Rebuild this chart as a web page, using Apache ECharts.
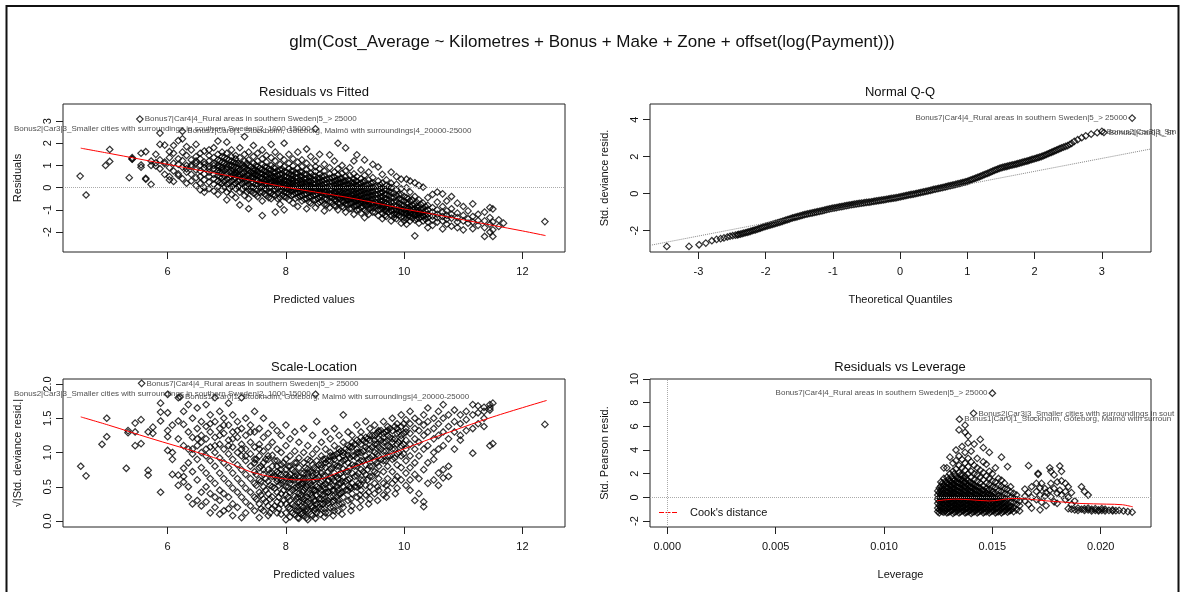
<!DOCTYPE html>
<html>
<head>
<meta charset="utf-8">
<script src="https://cdn.jsdelivr.net/npm/echarts@6/dist/echarts.min.js"></script>
<style>html,body{margin:0;padding:0;background:#fff}#c{width:1184px;height:592px}</style>
</head>
<body>
<div id="c"></div>
<script>
// ---------------- DATA ----------------
const mainTitle = "glm(Cost_Average ~ Kilometres + Bonus + Make + Zone + offset(log(Payment)))";
const panelTitles = ["Residuals vs Fitted", "Normal Q-Q", "Scale-Location", "Residuals vs Leverage"];
const xNames = ["Predicted values", "Theoretical Quantiles", "Predicted values", "Leverage"];
const yNames = ["Residuals", "Std. deviance resid.", "\u221A|Std. deviance resid.|", "Std. Pearson resid."];
const idLabels = [
  "Bonus7|Car4|4_Rural areas in southern Sweden|5_> 25000",
  "Bonus2|Car3|3_Smaller cities with surroundings in southern Sweden|2_1000-15000",
  "Bonus1|Car0|1_Stockholm, G\u00f6teborg, Malm\u00f6 with surroundings|4_20000-25000"
];
const cookLabel = "Cook's distance";

// tick values
const fitTicks = [6, 8, 10, 12];
const residTicks = [-2, -1, 0, 1, 2, 3];
const qqXTicks = [-3, -2, -1, 0, 1, 2, 3];
const qqYTicks = [-2, 0, 2, 4];
const slYTicks = [0, 0.5, 1, 1.5, 2];
const levXTicks = [0, 0.005, 0.01, 0.015, 0.02];
const levYTicks = [-2, 0, 2, 4, 6, 8, 10];

// Residuals vs Fitted: each row = [fitted, residual, residual, ...]
const rvfCols = [
[4.52,0.52],[4.62,-0.33],[4.95,1.0],[5.02,1.72,1.18],[5.35,0.45],[5.4,1.35,1.28,1.3],
[5.55,1.55,0.92,1.02],[5.63,1.62,0.42,0.38],[5.72,1.2,0.15,1.0],[5.8,1.5,1.12,0.98],
[5.87,2.46,1.95,1.25,0.85],[5.95,1.92,1.08,0.6,1.15],[6.03,1.35,0.5,0.35,0.9,1.62],
[6.1,1.55,1.1,0.28,0.75,1.9],[6.18,1.3,1.05,0.55,0.62,2.12],[6.25,1.6,1.22,0.92,0.4,2.2],
[6.32,1.45,1.0,0.7,0.2,1.85,0.85],[6.4,1.7,1.25,1.02,0.6,0.3,0.95],[6.48,1.95,1.4,1.1,0.8,0.45,0.1,1.2],
[6.55,1.3,1.0,0.75,0.5,0.2,-0.1,1.55],[6.62,1.65,1.15,0.9,0.62,0.35,0.0,-0.2,1.05],
[6.7,1.45,1.2,0.95,0.7,0.5,0.25,-0.05,0.85,1.7],[6.78,1.8,1.35,1.1,0.85,0.6,0.4,0.15,-0.15,1.0],
[6.85,2.1,1.5,1.25,1.0,0.75,0.55,0.3,0.05,-0.3,0.9],[6.92,1.4,1.15,0.9,0.68,0.45,0.2,-0.1,1.6,0.8],
[7.0,2.05,1.55,1.3,1.05,0.85,0.6,0.4,0.15,-0.2,-0.55,0.95],[7.08,1.7,1.2,1.0,0.75,0.5,0.3,0.05,-0.3,0.65,1.4],
[7.15,1.45,1.1,0.9,0.7,0.45,0.2,-0.05,-0.45,1.3,0.6],[7.22,1.8,1.35,1.05,0.8,0.6,0.35,0.1,-0.2,-0.78,0.5],
[7.3,2.3,1.5,1.2,0.95,0.7,0.5,0.28,0.05,-0.35,0.85,0.4],[7.37,1.6,1.25,1.0,0.78,0.55,0.35,0.15,-0.1,-0.5,-0.95,0.65],
[7.45,1.9,1.4,1.1,0.85,0.62,0.42,0.22,0.0,-0.25,0.75,0.5],[7.52,1.55,1.2,0.95,0.75,0.55,0.35,0.12,-0.1,-0.4,0.68,0.3],
[7.6,1.7,1.3,1.05,0.82,0.62,0.45,0.25,0.05,-0.2,-0.6,-1.26,0.4],[7.67,1.45,1.15,0.92,0.72,0.5,0.32,0.12,-0.08,-0.35,0.6,0.2],
[7.75,1.95,1.35,1.0,0.8,0.6,0.42,0.22,0.02,-0.22,-0.5,0.5,0.3],[7.82,1.6,1.2,0.88,0.68,0.5,0.3,0.1,-0.1,-0.35,-1.1,0.4,0.2],
[7.9,1.4,1.05,0.8,0.6,0.42,0.25,0.05,-0.15,-0.45,-0.75,0.35,0.15],[7.97,2.0,1.25,0.95,0.72,0.52,0.35,0.18,0.0,-0.2,-0.4,-1.0,0.28,0.1],
[8.05,1.5,1.1,0.85,0.62,0.45,0.28,0.1,-0.08,-0.28,-0.55,0.2,0.02],[8.12,1.3,0.98,0.75,0.55,0.38,0.2,0.05,-0.12,-0.32,-0.7,0.3,-0.05],
[8.2,1.6,1.15,0.88,0.65,0.45,0.28,0.12,-0.05,-0.22,-0.42,-0.85,0.0],[8.27,1.25,0.95,0.7,0.5,0.32,0.15,0.0,-0.15,-0.35,-0.6,0.22,-0.08],
[8.35,1.74,1.1,0.82,0.6,0.42,0.25,0.08,-0.1,-0.28,-0.5,-0.95,0.15],[8.42,1.4,0.9,0.65,0.45,0.28,0.12,-0.03,-0.2,-0.4,-0.7,0.05,-0.12],
[8.5,1.2,0.95,0.72,0.52,0.35,0.18,0.02,-0.15,-0.32,-0.55,-0.9,-0.05],[8.57,1.5,0.85,0.6,0.42,0.25,0.1,-0.05,-0.22,-0.42,-0.65,0.0,-0.15],
[8.65,1.05,0.75,0.52,0.35,0.18,0.02,-0.12,-0.28,-0.48,-0.75,-1.05,-0.2],[8.74,1.48,0.9,0.62,0.42,0.25,0.08,-0.08,-0.25,-0.42,-0.62,-0.9,-0.3],
[8.82,1.2,0.7,0.48,0.3,0.12,-0.02,-0.18,-0.35,-0.55,-0.8,-0.25],[8.88,2.0,0.85,0.58,0.38,0.2,0.04,-0.12,-0.3,-0.48,-0.7,-1.0,-0.4],
[8.95,1.0,0.65,0.42,0.25,0.08,-0.08,-0.25,-0.42,-0.6,-0.85,-0.35],[9.01,1.79,0.75,0.5,0.3,0.12,-0.05,-0.2,-0.38,-0.55,-0.75,-1.1,-0.45],
[9.08,0.9,0.55,0.32,0.15,-0.02,-0.18,-0.35,-0.52,-0.7,-0.95,-0.42],[9.15,1.2,0.62,0.38,0.2,0.02,-0.15,-0.3,-0.48,-0.65,-0.85,-1.2,-0.55],
[9.2,1.48,0.5,0.28,0.1,-0.08,-0.25,-0.42,-0.6,-0.8,-1.0,-0.5],[9.27,0.8,0.4,0.2,0.02,-0.15,-0.32,-0.5,-0.68,-0.88,-1.15,-0.6],
[9.33,1.25,0.55,0.3,0.1,-0.08,-0.25,-0.42,-0.6,-0.78,-1.0,-1.35,-0.7],[9.4,0.7,0.35,0.15,-0.05,-0.22,-0.4,-0.58,-0.75,-0.95,-1.2,-0.65],
[9.47,1.05,0.45,0.22,0.02,-0.18,-0.35,-0.52,-0.7,-0.9,-1.1,-0.8],[9.56,0.93,0.3,0.08,-0.12,-0.3,-0.48,-0.65,-0.82,-1.0,-1.25,-0.75],
[9.63,0.6,0.2,0.0,-0.2,-0.4,-0.6,-0.78,-0.95,-1.15,-1.4,-0.85],[9.7,0.35,0.1,-0.1,-0.3,-0.5,-0.7,-0.88,-1.05,-1.3,-0.95],
[9.78,0.7,0.2,0.0,-0.22,-0.45,-0.65,-0.85,-1.05,-1.25,-1.5,-1.0],[9.87,0.5,0.15,-0.1,-0.35,-0.6,-0.82,-1.0,-1.2,-1.4,-1.1],
[9.95,0.38,-0.05,-0.3,-0.55,-0.78,-0.95,-1.12,-1.32,-1.6,-1.05],[10.04,0.38,0.0,-0.45,-0.7,-0.9,-1.05,-1.2,-1.4,-1.65,-1.15],
[10.1,0.3,-0.2,-0.6,-0.85,-1.0,-1.15,-1.3,-1.5,-1.1],[10.18,0.22,-0.4,-0.75,-0.95,-1.1,-1.25,-1.45,-2.17,-1.2],
[10.25,0.1,-0.55,-0.88,-1.05,-1.22,-1.38,-1.6,-1.15],[10.32,0.02,-0.7,-0.95,-1.12,-1.3,-1.5,-1.25],
[10.4,-0.45,-0.8,-1.0,-1.2,-1.35,-1.55,-1.8],[10.48,-0.3,-0.9,-1.1,-1.28,-1.45,-1.7],
[10.56,-0.2,-0.65,-1.0,-1.2,-1.35,-1.55],[10.65,-0.28,-0.85,-1.1,-1.3,-1.5,-1.86],
[10.72,-0.6,-1.05,-1.25,-1.42,-1.65],[10.8,-0.4,-0.95,-1.2,-1.38,-1.74],[10.9,-0.7,-1.15,-1.35,-1.55,-1.8],
[11.0,-0.85,-1.25,-1.5,-1.9],[11.08,-1.05,-1.4,-1.6],[11.16,-0.73,-1.3,-1.55,-1.85],[11.25,-1.2,-1.48,-1.7],
[11.36,-1.1,-1.5,-1.8,-2.2],[11.45,-0.9,-1.35,-1.65,-2.0],[11.5,-0.96,-1.9,-2.2,-1.55],[11.6,-1.45,-1.75],
[11.68,-1.6],[12.38,-1.53]
];
// dense core of the Residuals vs Fitted cloud
const rvfCore = [
[6.88,0.95,0.7,0.48,0.22,1.2],[6.96,1.1,0.78,0.52,0.28,0.02,1.35],[7.04,1.0,0.7,0.45,0.2,-0.05,1.25],
[7.12,0.95,0.62,0.38,0.12,1.15,0.8],[7.19,0.88,0.58,0.3,0.05,1.1,0.72],[7.26,0.9,0.62,0.4,0.18,-0.08,1.05],
[7.34,0.82,0.55,0.3,0.05,-0.2,1.1],[7.41,0.72,0.48,0.25,0.02,-0.15,0.95],[7.49,0.8,0.58,0.38,0.15,-0.05,-0.3,1.0],
[7.56,0.65,0.45,0.22,0.0,-0.22,0.88],[7.64,0.75,0.55,0.35,0.15,-0.05,-0.28,0.95],[7.71,0.62,0.4,0.2,0.0,-0.2,-0.45,0.85],
[7.79,0.7,0.5,0.3,0.1,-0.1,-0.3,0.9],[7.86,0.55,0.35,0.15,-0.05,-0.25,-0.5,0.75],[7.94,0.62,0.42,0.22,0.05,-0.12,-0.32,0.82],
[8.01,0.5,0.3,0.12,-0.05,-0.22,-0.45,0.7],[8.09,0.58,0.38,0.2,0.02,-0.15,-0.35,0.75],[8.16,0.45,0.28,0.1,-0.08,-0.25,-0.48,0.65],
[8.24,0.52,0.35,0.18,0.0,-0.18,-0.38,0.72],[8.31,0.4,0.22,0.05,-0.12,-0.3,-0.52,0.6],[8.39,0.48,0.3,0.12,-0.05,-0.22,-0.42,-0.65],
[8.46,0.35,0.18,0.0,-0.18,-0.35,-0.55,0.55],[8.54,0.42,0.25,0.08,-0.1,-0.28,-0.48,-0.72],[8.61,0.3,0.12,-0.05,-0.22,-0.4,-0.6,0.5],
[8.69,0.38,0.2,0.02,-0.15,-0.32,-0.52,-0.78],[8.78,0.25,0.08,-0.1,-0.28,-0.45,-0.65,0.45],[8.85,0.32,0.15,-0.02,-0.2,-0.38,-0.58,-0.85],
[8.92,0.2,0.02,-0.15,-0.32,-0.5,-0.7,0.4],[8.98,0.28,0.1,-0.08,-0.25,-0.42,-0.62,-0.9],[9.05,0.15,-0.02,-0.2,-0.38,-0.55,-0.75,0.35],
[9.11,0.22,0.05,-0.12,-0.3,-0.48,-0.68,-0.95],[9.18,0.1,-0.08,-0.25,-0.42,-0.6,-0.8,0.3],[9.24,0.15,-0.02,-0.2,-0.38,-0.55,-0.75,-1.0],
[9.3,0.05,-0.12,-0.3,-0.48,-0.65,-0.85,0.25],[9.37,0.1,-0.08,-0.25,-0.42,-0.6,-0.8,-1.08],[9.44,0.0,-0.18,-0.35,-0.52,-0.7,-0.9,0.2],
[9.51,0.05,-0.12,-0.3,-0.48,-0.65,-0.85,-1.12],[9.6,-0.05,-0.25,-0.42,-0.6,-0.78,-0.98,0.12],[9.67,-0.1,-0.3,-0.48,-0.65,-0.82,-1.02,-1.25],
[9.74,-0.15,-0.35,-0.55,-0.72,-0.9,-1.1,0.05],[9.83,-0.25,-0.45,-0.65,-0.82,-1.0,-1.2,-1.35],[9.91,-0.3,-0.5,-0.7,-0.88,-1.05,-1.25],
[10.0,-0.4,-0.6,-0.8,-1.0,-1.15,-1.35,-1.5],[10.07,-0.5,-0.72,-0.92,-1.1,-1.28],[10.14,-0.55,-0.8,-0.98,-1.18,-1.38],
[10.21,-0.65,-0.85,-1.02,-1.2,-1.4],[10.28,-0.75,-0.98,-1.15,-1.32],[10.36,-0.85,-1.05,-1.25,-1.42]
];
const rvfId = [[5.53, 3.09], [8.5, 2.65], [6.25, 2.54]];
const rvfSmooth = [[4.53,1.78],[5.0,1.55],[5.5,1.3],[6.0,1.05],[6.5,0.8],[7.0,0.55],[7.5,0.28],[8.0,0.02],[8.5,-0.2],[9.0,-0.42],[9.5,-0.68],[10.0,-0.96],[10.5,-1.2],[11.0,-1.45],[11.5,-1.7],[12.0,-1.95],[12.39,-2.16]];

// Normal Q-Q: [theoretical quantile, std deviance residual]
const qqPts = [
[-3.47,-2.85],[-3.14,-2.85],[-2.99,-2.76],[-2.89,-2.67],[-2.80,-2.54],[-2.73,-2.47],[-2.67,-2.43],[-2.62,-2.39],[-2.57,-2.34],[-2.53,-2.30],[-2.49,-2.27],[-2.45,-2.24],[-2.42,-2.22],
[-2.40,-2.20],[-2.35,-2.16],[-2.30,-2.11],[-2.25,-2.06],[-2.20,-2.00],[-2.15,-1.95],[-2.10,-1.89],[-2.05,-1.82],[-2.00,-1.76],[-1.95,-1.71],[-1.90,-1.66],[-1.85,-1.60],[-1.80,-1.55],[-1.75,-1.49],[-1.70,-1.43],[-1.65,-1.37],[-1.60,-1.31],[-1.55,-1.26],[-1.50,-1.21],[-1.45,-1.16],[-1.40,-1.11],[-1.35,-1.07],[-1.30,-1.03],[-1.25,-0.99],[-1.20,-0.95],[-1.15,-0.91],[-1.10,-0.86],[-1.05,-0.82],[-1.00,-0.78],[-0.95,-0.75],[-0.90,-0.71],[-0.85,-0.68],[-0.80,-0.64],[-0.75,-0.61],[-0.70,-0.58],[-0.65,-0.55],[-0.60,-0.52],[-0.55,-0.50],[-0.50,-0.47],[-0.45,-0.45],[-0.40,-0.42],[-0.35,-0.39],[-0.30,-0.36],[-0.25,-0.33],[-0.20,-0.30],[-0.15,-0.27],[-0.10,-0.24],[-0.05,-0.21],[0.00,-0.17],[0.05,-0.13],[0.10,-0.09],[0.15,-0.05],[0.20,-0.02],[0.25,0.02],[0.30,0.06],[0.35,0.10],[0.40,0.14],[0.45,0.18],[0.50,0.23],[0.55,0.27],[0.60,0.31],[0.65,0.35],[0.70,0.40],[0.75,0.44],[0.80,0.48],[0.85,0.53],[0.90,0.57],[0.95,0.62],[1.00,0.67],[1.05,0.74],[1.10,0.81],[1.15,0.88],[1.20,0.95],[1.25,1.03],[1.30,1.10],[1.35,1.18],[1.40,1.26],[1.45,1.33],[1.50,1.40],[1.55,1.45],[1.60,1.49],[1.65,1.54],[1.70,1.58],[1.75,1.63],[1.80,1.68],[1.85,1.73],[1.90,1.78],[1.95,1.84],[2.00,1.89],[2.05,1.95],[2.10,2.01],[2.15,2.08],[2.20,2.16],[2.25,2.24],[2.30,2.32],[2.35,2.40],[2.40,2.48],
[2.43,2.52],[2.46,2.56],[2.49,2.60],[2.52,2.66],[2.55,2.72],[2.59,2.83],[2.64,2.92],[2.70,3.03],[2.76,3.13],[2.84,3.22],[2.93,3.30]
];
// further points of the dense middle of the Q-Q band
const qqMid = [
[-2.375,-2.18],[-2.325,-2.135],[-2.275,-2.085],[-2.225,-2.03],[-2.175,-1.975],[-2.125,-1.92],[-2.075,-1.855],[-2.025,-1.79],[-1.975,-1.735],[-1.925,-1.685],[-1.875,-1.63],[-1.825,-1.575],[-1.775,-1.52],[-1.725,-1.46],[-1.675,-1.40],[-1.625,-1.34],[-1.575,-1.285],[-1.525,-1.235],[-1.475,-1.185],[-1.425,-1.135],[-1.375,-1.09],[-1.325,-1.05],[-1.275,-1.01],[-1.225,-0.97],[-1.175,-0.93],[-1.125,-0.885],[-1.075,-0.84],[-1.025,-0.80],[-0.975,-0.765],[-0.925,-0.73],[-0.875,-0.695],[-0.825,-0.66],[-0.775,-0.625],[-0.725,-0.595],[-0.675,-0.565],[-0.625,-0.535],[-0.575,-0.51],[-0.525,-0.485],[-0.475,-0.46],[-0.425,-0.435],[-0.375,-0.405],[-0.325,-0.375],[-0.275,-0.345],[-0.225,-0.315],[-0.175,-0.285],[-0.125,-0.255],[-0.075,-0.225],[-0.025,-0.19],[0.025,-0.15],[0.075,-0.11],[0.125,-0.07],[0.175,-0.035],[0.225,0.0],[0.275,0.04],[0.325,0.08],[0.375,0.12],[0.425,0.16],[0.475,0.205],[0.525,0.25],[0.575,0.29],[0.625,0.33],[0.675,0.375],[0.725,0.42],[0.775,0.46],[0.825,0.505],[0.875,0.55],[0.925,0.595],[0.975,0.645],[1.025,0.705],[1.075,0.775],[1.125,0.845],[1.175,0.915],[1.225,0.99],[1.275,1.065],[1.325,1.14],[1.375,1.22],[1.425,1.295],[1.475,1.365],[1.525,1.425],[1.575,1.47],[1.625,1.515],[1.675,1.56],[1.725,1.605],[1.775,1.655],[1.825,1.705],[1.875,1.755],[1.925,1.81],[1.975,1.865],[2.025,1.92],[2.075,1.98],[2.125,2.045],[2.175,2.12],[2.225,2.2],[2.275,2.28],[2.325,2.36],[2.375,2.44]
];
const qqId = [[3.45, 4.09], [3.0, 3.37], [3.03, 3.31]];
const qqRef = [[-3.72, -2.79], [3.73, 2.42]];

// Scale-Location: each row = [fitted, sqrt|std resid|, ...]
const slCols = [
[4.53,0.8],[4.62,0.66],[4.89,1.12],[4.97,1.23,1.5],[5.3,0.77],[5.33,1.32,1.29],[5.45,1.43,1.3,1.1],
[5.55,1.13,1.48],[5.67,0.74,0.67,1.3],[5.75,1.37,1.28],[5.88,0.42,1.59,1.46,1.72],[6.0,1.58,1.23,1.03,1.32,1.85],
[6.08,1.0,0.68,1.4,0.9],[6.18,0.67,0.52,1.2,1.46,1.8],[6.27,1.41,0.57,0.77,0.65,1.1,1.6],
[6.35,1.3,1.05,0.85,0.5,0.35,1.7],[6.42,1.5,1.22,0.98,0.72,0.25,1.05],[6.5,1.65,1.35,1.1,0.9,0.6,0.3,1.2],
[6.57,1.45,1.15,1.0,0.78,0.42,0.22,1.25],[6.65,1.7,1.38,1.2,0.95,0.7,0.5,0.28,1.05],
[6.72,1.55,1.3,1.08,0.88,0.62,0.4,0.12,1.42],[6.8,1.8,1.45,1.22,1.0,0.8,0.55,0.35,0.2,1.1],
[6.88,1.6,1.35,1.12,0.92,0.7,0.45,0.3,0.1,1.25],[6.95,1.5,1.28,1.05,0.85,0.62,0.4,0.15,1.4],
[7.03,1.72,1.4,1.18,0.98,0.78,0.55,0.35,0.18,1.1],[7.1,1.55,1.3,1.08,0.9,0.7,0.48,0.25,0.08,1.2],
[7.18,1.45,1.22,1.0,0.82,0.62,0.42,0.2,1.32],[7.25,1.8,1.35,1.12,0.95,0.75,0.55,0.35,0.05,1.05],
[7.32,1.5,1.25,1.05,0.88,0.68,0.48,0.28,0.12,0.95],[7.4,1.4,1.15,0.98,0.8,0.62,0.42,0.22,1.3],
[7.47,1.6,1.3,1.08,0.9,0.72,0.55,0.35,0.15,0.85],[7.55,1.35,1.12,0.95,0.78,0.6,0.42,0.25,0.05,1.05],
[7.62,1.5,1.22,1.02,0.85,0.68,0.5,0.32,0.15,0.75],[7.7,1.28,1.08,0.9,0.75,0.58,0.4,0.22,0.08,0.95],
[7.77,1.4,1.15,0.96,0.8,0.65,0.5,0.35,0.18,0.7],[7.85,1.32,1.05,0.88,0.72,0.58,0.42,0.28,0.12,0.62,0.8],
[7.92,1.25,1.0,0.82,0.68,0.55,0.4,0.25,0.1,0.6,0.75],[8.0,1.4,1.1,0.9,0.75,0.62,0.5,0.38,0.25,0.12,0.02,0.68],
[8.07,1.2,0.95,0.8,0.68,0.55,0.42,0.3,0.18,0.06,0.6],[8.15,1.3,1.02,0.85,0.72,0.6,0.48,0.36,0.22,0.1,0.65],
[8.22,1.15,0.92,0.78,0.65,0.52,0.4,0.28,0.15,0.04,0.58],[8.3,1.35,1.0,0.85,0.7,0.58,0.45,0.32,0.2,0.08,0.62],
[8.37,1.1,0.9,0.76,0.64,0.52,0.4,0.28,0.15,0.02,0.7],[8.45,1.25,0.98,0.82,0.7,0.58,0.46,0.34,0.2,0.08,0.65],
[8.52,1.45,1.05,0.88,0.75,0.62,0.5,0.38,0.25,0.12,0.7],[8.6,1.15,0.95,0.82,0.7,0.58,0.45,0.32,0.18,0.78],
[8.67,1.3,1.05,0.9,0.78,0.66,0.54,0.42,0.28,0.12,0.85],[8.75,1.2,1.0,0.88,0.76,0.64,0.5,0.36,0.2,0.95],
[8.82,1.35,1.1,0.95,0.82,0.7,0.58,0.45,0.3,0.15,0.9],[8.9,1.25,1.05,0.92,0.8,0.68,0.55,0.4,0.25,1.0],
[8.97,1.55,1.15,1.0,0.88,0.76,0.64,0.5,0.35,0.2,0.95],[9.05,1.3,1.1,0.96,0.85,0.72,0.6,0.45,0.3,1.02],
[9.12,1.25,1.08,0.95,0.82,0.7,0.55,0.4,0.22,1.15],[9.2,1.4,1.18,1.05,0.92,0.8,0.66,0.5,0.35,1.0],
[9.27,1.3,1.12,1.0,0.88,0.75,0.6,0.45,0.3,1.22],[9.35,1.45,1.22,1.08,0.95,0.82,0.68,0.52,0.38,1.15],
[9.42,1.35,1.18,1.05,0.92,0.8,0.65,0.5,0.32,1.25],[9.5,1.4,1.25,1.12,1.0,0.88,0.72,0.55,0.4,1.18],
[9.57,1.32,1.2,1.08,0.95,0.8,0.62,0.45,1.3],[9.65,1.45,1.28,1.15,1.02,0.88,0.72,0.55,0.38,1.22],
[9.72,1.38,1.25,1.1,0.95,0.8,0.62,0.45,1.32],[9.8,1.5,1.32,1.2,1.05,0.9,0.72,0.55,1.15],
[9.88,1.42,1.28,1.12,0.98,0.82,0.65,0.48,1.35],[9.95,1.55,1.38,1.25,1.1,0.95,0.78,0.6,1.2],
[10.03,1.48,1.3,1.18,1.05,0.88,0.7,0.52,1.35],[10.1,1.6,1.42,1.28,1.12,0.95,0.78,0.6,0.45],
[10.18,1.5,1.35,1.2,1.05,0.85,0.68,0.3],[10.25,1.45,1.32,1.15,0.95,0.62,0.4],
[10.33,1.55,1.4,1.25,1.05,0.75,0.28,0.21],[10.4,1.65,1.45,1.3,1.1,0.85,0.55],
[10.5,1.5,1.35,1.2,0.9,0.6,1.0],[10.58,1.6,1.42,1.25,1.05,0.7,0.52],[10.66,1.7,1.5,1.3,0.75,1.1,0.63],
[10.75,1.55,1.38,1.2,0.8,0.65],[10.85,1.62,1.45,1.3,1.05],[10.95,1.55,1.42,1.25,1.18],
[11.05,1.6,1.48,1.32],[11.16,1.7,1.55,1.35,0.99],[11.25,1.68,1.58,1.42],[11.35,1.6,1.5,1.38,1.66],
[11.45,1.7,1.62,1.1,1.65],[11.5,1.72,1.13],[12.38,1.41]
];
// dense core of the Scale-Location cloud
const slCore = [
[7.5,0.52,0.32,0.9,0.68],[7.58,0.58,0.38,0.18,0.8],[7.66,0.45,0.62,0.28,0.9],[7.73,0.52,0.32,0.7,0.12],
[7.81,0.48,0.65,0.22,0.88],[7.88,0.35,0.52,0.7,0.18],[7.96,0.45,0.3,0.58,0.85],[8.04,0.35,0.5,0.65,0.2,0.8],
[8.11,0.25,0.45,0.6,0.75,0.12],[8.18,0.32,0.5,0.68,0.15,0.85],[8.26,0.22,0.38,0.55,0.7,0.1],[8.33,0.3,0.48,0.62,0.78,0.15],
[8.41,0.25,0.4,0.55,0.72,0.88],[8.48,0.3,0.45,0.6,0.78,0.15],[8.56,0.32,0.48,0.65,0.82,0.2],[8.63,0.38,0.52,0.66,0.9,0.25],
[8.71,0.42,0.58,0.72,0.88,0.3],[8.79,0.45,0.62,0.78,0.95,0.28],[8.86,0.5,0.65,0.8,0.98,0.35],[8.93,0.55,0.7,0.85,1.02,0.4],
[9.01,0.58,0.72,0.9,1.05,0.45],[9.08,0.62,0.78,0.92,1.08,0.5],[9.16,0.65,0.8,0.95,1.12,0.5],[9.23,0.7,0.85,1.0,1.15,0.55],
[9.31,0.72,0.88,1.02,1.18,0.6],[9.38,0.75,0.9,1.05,1.2,0.6],[9.46,0.8,0.95,1.08,1.25,0.65],[9.54,0.85,0.98,1.12,1.28,0.7],
[9.61,0.9,1.05,1.18,1.32],[9.69,0.88,1.02,1.15,1.3],[9.76,0.95,1.08,1.22,1.35],[9.84,0.92,1.05,1.2,1.38],
[9.91,1.0,1.15,1.3],[9.99,0.98,1.12,1.28,1.42]
];
// low values near the bottom of the Scale-Location "V"
const slLow = [
[8.2,0.05,0.2,0.35,0.48],[8.28,0.12,0.28,0.42,0.55],[8.35,0.05,0.18,0.35,0.5],[8.43,0.1,0.22,0.38,0.52],
[8.5,0.04,0.18,0.3,0.45],[8.58,0.1,0.25,0.4,0.55],[8.65,0.06,0.18,0.32,0.48],[8.72,0.12,0.26,0.42,0.6],
[8.8,0.08,0.2,0.36,0.52],[8.88,0.15,0.3,0.45,0.62],[8.95,0.1,0.25,0.42,0.58],[9.1,0.15,0.32,0.48],
[9.25,0.2,0.38,0.52],[9.4,0.25,0.42],[9.55,0.3,0.5],[9.7,0.35,0.52],[9.85,0.4,0.6]
];
const slId = [[5.56, 2.01], [8.5, 1.85], [6.21, 1.81]];
const slSmooth = [[4.53,1.52],[5.0,1.4],[5.7,1.21],[6.55,0.99],[7.0,0.86],[7.4,0.72],[7.8,0.64],[8.24,0.6],[8.57,0.61],[8.8,0.68],[9.08,0.77],[9.5,0.9],[9.93,1.03],[10.35,1.17],[10.77,1.3],[11.5,1.52],[12.41,1.76]];

// Residuals vs Leverage: each row = [leverage, std pearson resid, ...]
const levCols = [
[0.01248,-0.9,-0.5,-0.15,0.2,0.55,-1.2],
[0.01262,-1.1,-0.8,-0.45,-0.1,0.25,0.6,0.95,1.3],
[0.01276,-1.25,-0.95,-0.6,-0.3,0.0,0.35,0.7,1.05,1.6,2.5],
[0.0129,-1.3,-1.0,-0.7,-0.4,-0.1,0.2,0.5,0.85,1.2,1.7,2.5],
[0.01304,-1.2,-0.85,-0.55,-0.25,0.05,0.35,0.65,1.0,1.4,2.0,3.4],
[0.01318,-1.35,-1.05,-0.75,-0.45,-0.15,0.15,0.45,0.8,1.15,1.55,2.2,2.9],
[0.01332,-1.2,-0.9,-0.6,-0.3,0.0,0.3,0.6,0.95,1.3,1.75,2.4,3.1,4.0],
[0.01346,-1.3,-1.0,-0.7,-0.4,-0.1,0.2,0.5,0.85,1.2,1.6,2.1,2.7,3.5,5.7],
[0.0136,-1.15,-0.85,-0.55,-0.25,0.05,0.35,0.7,1.05,1.45,1.9,2.5,3.2,4.3],
[0.01374,-1.3,-1.0,-0.7,-0.4,-0.1,0.2,0.55,0.9,1.3,1.8,2.3,2.9,3.8,5.5,6.1],
[0.01388,-1.2,-0.9,-0.6,-0.3,0.0,0.3,0.65,1.0,1.4,2.0,2.6,3.3,4.6,5.2],
[0.01402,-1.35,-1.05,-0.75,-0.45,-0.15,0.15,0.5,0.85,1.25,1.7,2.2,3.0,3.9],
[0.01416,-1.2,-0.9,-0.6,-0.3,0.0,0.3,0.65,1.05,1.5,2.0,2.7,4.5],
[0.0143,-1.3,-1.0,-0.7,-0.4,-0.1,0.2,0.55,0.9,1.35,1.9,2.5,3.3],
[0.01444,-1.15,-0.85,-0.55,-0.25,0.05,0.4,0.8,1.2,1.7,2.3,4.9],
[0.01458,-1.3,-1.0,-0.7,-0.4,-0.1,0.25,0.6,1.0,1.5,2.1,3.0,4.2],
[0.01472,-1.2,-0.9,-0.6,-0.3,0.0,0.35,0.75,1.2,1.8,2.8],
[0.01486,-1.3,-0.95,-0.65,-0.35,-0.05,0.3,0.7,1.1,1.6,2.2,3.8],
[0.015,-1.15,-0.85,-0.55,-0.25,0.1,0.5,0.9,1.4,2.0],
[0.01514,-1.3,-0.95,-0.6,-0.3,0.05,0.4,0.85,1.3,2.5],
[0.01528,-1.2,-0.85,-0.5,-0.2,0.15,0.55,1.0,1.6],
[0.01542,-1.3,-0.95,-0.6,-0.25,0.1,0.5,0.95,1.45,3.4],
[0.01556,-1.15,-0.8,-0.45,-0.1,0.3,0.75,1.2],
[0.0157,-1.25,-0.9,-0.55,-0.15,0.25,0.7,2.6],
[0.01584,-1.1,-0.75,-0.4,0.0,0.45,0.9],
[0.01598,-1.2,-0.85,-0.45,-0.05,0.35],
[0.01612,-1.05,-0.6,-0.2,0.2],
[0.01626,-1.15,-0.7,-0.3],
[0.0165,0.7,-0.3,0.1],[0.01667,2.68,0.4,-0.6],[0.01681,0.9,0.0,-0.9],[0.01703,1.18,0.5,-0.2],
[0.01711,2.03,1.95],[0.0172,0.2,-1.05,0.8],[0.01727,1.18,-0.4],[0.01742,0.75,0.1],[0.01748,0.42,-0.7],
[0.01765,2.5,0.6],[0.0177,2.2,1.18,0.05],[0.01785,1.9,0.75,-0.37],[0.01799,1.3,0.35,-0.5],
[0.01811,2.65,0.6],[0.01819,2.2,1.4,0.2],[0.01837,1.18,0.5,-0.2],[0.0185,0.9,0.0,-0.95],
[0.01865,0.4,-0.6,-1.0],[0.0188,-0.3,-1.05],[0.01895,-0.9,-1.1],[0.01911,0.9,-1.0],
[0.01925,0.5,-1.1,-0.95],[0.01942,0.2,-0.9,-1.05],[0.01958,-1.0,-1.15],[0.01975,-0.95,-1.1],
[0.0199,-1.05,-1.15],[0.02005,-0.95,-1.1],[0.0202,-1.0,-1.15],[0.02038,-1.1],[0.02055,-1.05,-1.15],
[0.0207,-1.12],[0.02085,-1.1],[0.02105,-1.15],[0.02125,-1.2],[0.02145,-1.25]
];
// dense core of the leverage cloud
const levCore = [
[0.01255,-1.05,-0.7,-0.35,0.0,0.4,0.8,-1.3],[0.01269,-1.2,-0.88,-0.52,-0.2,0.15,0.5,0.85,1.2],
[0.01283,-1.15,-0.82,-0.48,-0.15,0.2,0.55,0.9,1.35],[0.01297,-1.25,-0.92,-0.58,-0.25,0.1,0.45,0.8,1.15,1.5],
[0.01311,-1.1,-0.75,-0.4,-0.05,0.3,0.6,0.95,1.3,1.75],[0.01325,-1.25,-0.92,-0.6,-0.28,0.05,0.4,0.75,1.1,1.45,2.0],
[0.01339,-1.1,-0.78,-0.45,-0.12,0.22,0.55,0.9,1.25,1.6],[0.01353,-1.22,-0.88,-0.55,-0.22,0.12,0.45,0.8,1.15,1.5,1.9],
[0.01367,-1.1,-0.78,-0.45,-0.12,0.22,0.55,0.9,1.25,1.65],[0.01381,-1.25,-0.92,-0.58,-0.25,0.1,0.45,0.8,1.15,1.55],
[0.01395,-1.1,-0.78,-0.45,-0.12,0.22,0.55,0.9,1.3],[0.01409,-1.25,-0.9,-0.55,-0.2,0.12,0.45,0.8,1.15],
[0.01423,-1.1,-0.75,-0.42,-0.08,0.25,0.6,0.95],[0.01437,-1.22,-0.88,-0.55,-0.2,0.15,0.5,0.85],
[0.01451,-1.1,-0.75,-0.42,-0.08,0.25,0.6],[0.01465,-1.22,-0.88,-0.52,-0.18,0.18,0.5],
[0.01479,-1.1,-0.75,-0.42,-0.1,0.2,0.55],[0.01493,-1.2,-0.85,-0.5,-0.15,0.2],
[0.01507,-1.1,-0.75,-0.4,-0.05,0.3],[0.01521,-1.22,-0.88,-0.55,-0.2],[0.01535,-1.1,-0.75,-0.4,-0.05],
[0.01549,-1.2,-0.85,-0.5],[0.01563,-1.05,-0.7,-0.35],[0.01577,-1.15,-0.8],[0.01591,-1.0]
];
const levId = [[0.0150, 8.8], [0.01413, 7.1], [0.01348, 6.6]];
const levSmooth = [[0.01243,-0.29],[0.0133,-0.15],[0.014,-0.2],[0.01487,-0.3],[0.01595,-0.09],[0.0165,-0.12],[0.01749,-0.29],[0.0183,-0.4],[0.01904,-0.51],[0.02028,-0.57],[0.021,-0.62],[0.02148,-0.8]];

// ---------------- BUILD ----------------
const FONT = "'Liberation Sans', Arial, sans-serif";
const TXT = '#111';
function colsToPoints(cols) {
  const out = [];
  cols.forEach(c => { for (let i = 1; i < c.length; i++) out.push([c[0], c[i]]); });
  return out;
}
const grids = [
  {left: 63, top: 104, width: 502, height: 148},
  {left: 650, top: 104, width: 501, height: 148},
  {left: 63, top: 379, width: 502, height: 148},
  {left: 650, top: 379, width: 501, height: 148}
].map(g => Object.assign(g, {show: true, borderColor: '#222', borderWidth: 1, backgroundColor: 'transparent', containLabel: false}));

function xAxis(gi, min, max, ticks, fmt, name) {
  return {
    type: 'value', gridIndex: gi, min: min, max: max, position: 'bottom',
    axisLine: {show: false, onZero: false}, splitLine: {show: false},
    axisTick: {show: true, length: 7, customValues: ticks, lineStyle: {color: '#222'}},
    axisLabel: {customValues: ticks, formatter: fmt, margin: 14, fontSize: 11, color: TXT, fontFamily: FONT},
    name: name, nameLocation: 'middle', nameGap: 42,
    nameTextStyle: {fontSize: 11, color: TXT, fontFamily: FONT}
  };
}
function yAxis(gi, min, max, ticks, fmt, name) {
  return {
    type: 'value', gridIndex: gi, min: min, max: max, position: 'left',
    axisLine: {show: false, onZero: false}, splitLine: {show: false},
    axisTick: {show: true, length: 7, customValues: ticks, lineStyle: {color: '#222'}},
    axisLabel: {customValues: ticks, formatter: fmt, margin: 10, rotate: 90, fontSize: 11, color: TXT, fontFamily: FONT},
    name: name, nameLocation: 'middle', nameGap: 40,
    nameTextStyle: {fontSize: 11, color: TXT, fontFamily: FONT}
  };
}
const intFmt = v => String(Math.round(v));

const pointStyle = {color: 'rgba(0,0,0,0)', borderColor: '#000', borderWidth: 1.2};
function scatter(gi, data, extra) {
  return Object.assign({
    type: 'scatter', xAxisIndex: gi, yAxisIndex: gi, data: data,
    symbol: 'diamond', symbolSize: 6.5, itemStyle: pointStyle, silent: true, clip: true
  }, extra || {});
}
function smoothLine(gi, data) {
  return {type: 'line', xAxisIndex: gi, yAxisIndex: gi, data: data, smooth: 0.35, symbol: 'none',
    lineStyle: {color: '#ff0000', width: 1}, silent: true, z: 5};
}
// label placement per id point: [position, truncation width]
function idSeries(gi, pts, placement) {
  return scatter(gi, pts.map((p, i) => ({
    value: p,
    label: {
      show: true, formatter: idLabels[i], position: placement[i][0], distance: 1,
      fontSize: 8, color: '#222', fontFamily: FONT,
      width: placement[i][1] || undefined, overflow: placement[i][1] ? 'truncate' : 'none', ellipsis: ''
    }
  })), {z: 6});
}
const refLine = (items) => ({
  silent: true, symbol: 'none', label: {show: false},
  lineStyle: {type: 'dotted', color: '#aaa', width: 1}, data: items
});

const option = {
  animation: false,
  backgroundColor: '#fff',
  textStyle: {fontFamily: FONT},
  title: [
    {text: mainTitle, left: 592, top: 34, textAlign: 'center', padding: 0, textStyle: {fontSize: 17, fontWeight: 'normal', color: TXT, fontFamily: FONT}},
    {text: panelTitles[0], left: 314, top: 86, textAlign: 'center', padding: 0, textStyle: {fontSize: 13, fontWeight: 'normal', color: TXT, fontFamily: FONT}},
    {text: panelTitles[1], left: 900, top: 86, textAlign: 'center', padding: 0, textStyle: {fontSize: 13, fontWeight: 'normal', color: TXT, fontFamily: FONT}},
    {text: panelTitles[2], left: 314, top: 361, textAlign: 'center', padding: 0, textStyle: {fontSize: 13, fontWeight: 'normal', color: TXT, fontFamily: FONT}},
    {text: panelTitles[3], left: 900, top: 361, textAlign: 'center', padding: 0, textStyle: {fontSize: 13, fontWeight: 'normal', color: TXT, fontFamily: FONT}}
  ],
  legend: {
    data: [{name: cookLabel, icon: 'path://M0,0h5v1h-5z M6.5,0h5v1h-5z M13,0h5v1h-5z'}],
    left: 659, top: 507, itemWidth: 18, itemHeight: 1, selectedMode: false,
    padding: 0, textStyle: {fontSize: 11, color: TXT, fontFamily: FONT, padding: [0, 0, 0, 8]}
  },
  grid: grids,
  xAxis: [
    xAxis(0, 4.23, 12.72, fitTicks, intFmt, xNames[0]),
    xAxis(1, -3.72, 3.73, qqXTicks, intFmt, xNames[1]),
    xAxis(2, 4.23, 12.72, fitTicks, intFmt, xNames[2]),
    xAxis(3, -0.0008, 0.02232, levXTicks, v => v.toFixed(3), xNames[3])
  ],
  yAxis: [
    yAxis(0, -2.9, 3.77, residTicks, intFmt, yNames[0]),
    yAxis(1, -3.15, 4.85, qqYTicks, intFmt, yNames[1]),
    yAxis(2, -0.087, 2.073, slYTicks, v => v.toFixed(1), yNames[2]),
    yAxis(3, -2.5, 10, levYTicks, intFmt, yNames[3])
  ],
  series: [
    scatter(0, colsToPoints(rvfCols).concat(colsToPoints(rvfCore)), {markLine: refLine([{yAxis: 0}])}),
    idSeries(0, rvfId, [['right', 0], ['left', 0], ['right', 0]]),
    smoothLine(0, rvfSmooth),

    {type: 'line', xAxisIndex: 1, yAxisIndex: 1, data: qqRef, symbol: 'none', silent: true,
      lineStyle: {type: 'dotted', color: '#888', width: 1}},
    scatter(1, qqPts.concat(qqMid)),
    idSeries(1, qqId, [['left', 0], ['right', 72], ['right', 70]]),

    scatter(2, colsToPoints(slCols).concat(colsToPoints(slCore), colsToPoints(slLow))),
    idSeries(2, slId, [['right', 0], ['left', 0], ['right', 0]]),
    smoothLine(2, slSmooth),

    scatter(3, colsToPoints(levCols).concat(colsToPoints(levCore)), {markLine: refLine([{yAxis: 0}, {xAxis: 0}])}),
    idSeries(3, levId, [['left', 0], ['right', 200], ['right', 214]]),
    smoothLine(3, levSmooth),
    {name: cookLabel, type: 'line', xAxisIndex: 3, yAxisIndex: 3, data: [], symbol: 'none',
      lineStyle: {type: 'dashed', color: '#ff0000', width: 1}, itemStyle: {color: '#ff0000'}}
  ],
  graphic: [
    {type: 'rect', shape: {x: 6.5, y: 6, width: 1172, height: 600}, style: {fill: 'none', stroke: '#111', lineWidth: 2}, silent: true, z: 100}
  ]
};
const chart = echarts.init(document.getElementById('c'), null, {renderer: 'canvas'});
chart.setOption(option);
</script>
</body>
</html>
